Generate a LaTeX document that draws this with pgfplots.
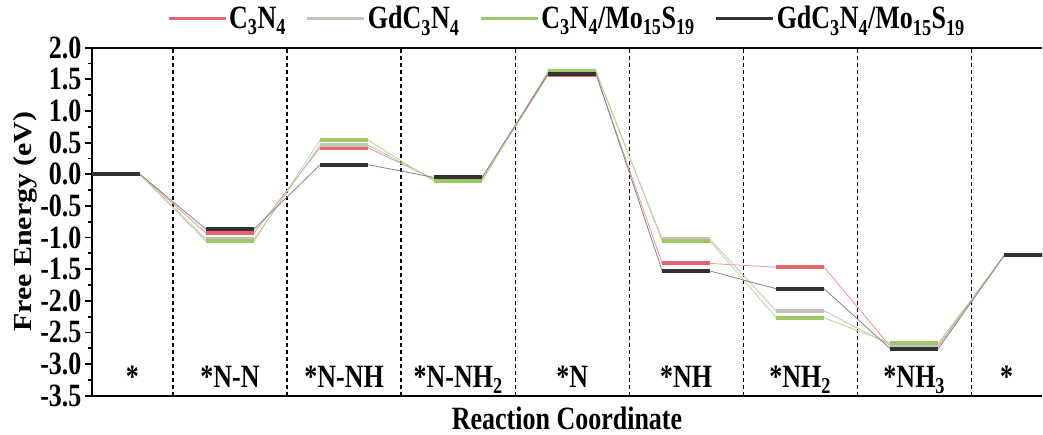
\documentclass[border=0pt]{standalone}
\usepackage{fontspec}
\setmainfont{Liberation Serif}[FakeStretch=0.8]
\newfontfamily\ylfont{Liberation Serif}[FakeStretch=1.15]
\usepackage{pgfplots}
\pgfplotsset{compat=1.18}
\definecolor{cred}{RGB}{232,100,108}
\definecolor{cgrey}{RGB}{192,196,186}
\definecolor{cgreen}{RGB}{155,199,101}
\definecolor{cblack}{RGB}{50,50,50}
\begin{document}
\begin{tikzpicture}[font=\fontsize{32.5}{36}\selectfont\bfseries]
\begin{axis}[name=ax, scale only axis, width=950pt, height=348pt,
  xmin=0.29, xmax=8.62, ymin=-3.5, ymax=2.0,
  axis x line*=box, axis y line*=left,
  axis line style={-, line width=2.2pt, black},
  xtick=\empty,
  extra x ticks={1,2,3,4,5,6,7,8},
  extra x tick labels={},
  extra x tick style={major tick length=0pt, grid=major, major grid style={black, line width=1.2pt, dash pattern=on 4pt off 3pt}},
  ytick={-3.5,-3,...,2},
  minor y tick num=1,
  tick align=outside, ytick pos=left,
  major tick length=7pt, minor tick length=4pt,
  every tick/.style={black, line width=1.8pt},
  yticklabel style={/pgf/number format/.cd, fixed, fixed zerofill, precision=1, assume math mode=true},
  ylabel={\fontsize{26}{30}\ylfont\bfseries Free Energy (eV)},
  ylabel style={at={(axis description cs:-0.0632,0.5)}, anchor=base, inner sep=0pt},
  xlabel={Reaction Coordinate},
  xlabel style={at={(axis description cs:0.5,-0.096)}, anchor=base, inner sep=0pt},
  legend style={at={(0.5,1)}, anchor=south, yshift=13pt, draw=none, fill=none, legend columns=4, /tikz/every even column/.append style={column sep=18pt}},
  legend image code/.code={\draw[#1, line width=3pt] (0pt,0pt) -- (57pt,0pt);},
  unbounded coords=jump, clip=true,
]
% connectors
\addplot[cred!70, line width=0.8pt, forget plot] coordinates {(0.71,0) (1.29,-0.93) (1.71,-0.93) (2.29,0.42) (2.71,0.42) (3.29,-0.08) (3.71,-0.08) (4.29,1.57) (4.71,1.57) (5.29,-1.41) (5.71,-1.41) (6.29,-1.47) (6.71,-1.47) (7.29,-2.72) (7.71,-2.72) (8.29,-1.28)};
\addplot[cgrey, line width=0.8pt, forget plot] coordinates {(0.71,0) (1.29,-1.03) (1.71,-1.03) (2.29,0.46) (2.71,0.46) (3.29,-0.08) (3.71,-0.08) (4.29,1.61) (4.71,1.61) (5.29,-1.03) (5.71,-1.03) (6.29,-2.16) (6.71,-2.16) (7.29,-2.70) (7.71,-2.70) (8.29,-1.28)};
\addplot[cgreen!70, line width=0.8pt, forget plot] coordinates {(0.71,0) (1.29,-1.06) (1.71,-1.06) (2.29,0.54) (2.71,0.54) (3.29,-0.11) (3.71,-0.11) (4.29,1.63) (4.71,1.63) (5.29,-1.06) (5.71,-1.06) (6.29,-2.27) (6.71,-2.27) (7.29,-2.67) (7.71,-2.67) (8.29,-1.28)};
\addplot[cblack!60, line width=0.8pt, forget plot] coordinates {(0.71,0) (1.29,-0.87) (1.71,-0.87) (2.29,0.15) (2.71,0.15) (3.29,-0.05) (3.71,-0.05) (4.29,1.59) (4.71,1.59) (5.29,-1.53) (5.71,-1.53) (6.29,-1.81) (6.71,-1.81) (7.29,-2.76) (7.71,-2.76) (8.29,-1.28)};
% levels
\addplot[cred, line width=4pt] coordinates {(0.29,0) (0.71,0) (1,nan) (1.29,-0.93) (1.71,-0.93) (2,nan) (2.29,0.42) (2.71,0.42) (3,nan) (3.29,-0.08) (3.71,-0.08) (4,nan) (4.29,1.57) (4.71,1.57) (5,nan) (5.29,-1.41) (5.71,-1.41) (6,nan) (6.29,-1.47) (6.71,-1.47) (7,nan) (7.29,-2.72) (7.71,-2.72) (8,nan) (8.29,-1.28) (8.71,-1.28)};
\addlegendentry{C\textsubscript{3}N\textsubscript{4}}
\addplot[cgrey, line width=4pt] coordinates {(0.29,0) (0.71,0) (1,nan) (1.29,-1.03) (1.71,-1.03) (2,nan) (2.29,0.46) (2.71,0.46) (3,nan) (3.29,-0.08) (3.71,-0.08) (4,nan) (4.29,1.61) (4.71,1.61) (5,nan) (5.29,-1.03) (5.71,-1.03) (6,nan) (6.29,-2.16) (6.71,-2.16) (7,nan) (7.29,-2.70) (7.71,-2.70) (8,nan) (8.29,-1.28) (8.71,-1.28)};
\addlegendentry{GdC\textsubscript{3}N\textsubscript{4}}
\addplot[cgreen, line width=4pt] coordinates {(0.29,0) (0.71,0) (1,nan) (1.29,-1.06) (1.71,-1.06) (2,nan) (2.29,0.54) (2.71,0.54) (3,nan) (3.29,-0.11) (3.71,-0.11) (4,nan) (4.29,1.63) (4.71,1.63) (5,nan) (5.29,-1.06) (5.71,-1.06) (6,nan) (6.29,-2.27) (6.71,-2.27) (7,nan) (7.29,-2.67) (7.71,-2.67) (8,nan) (8.29,-1.28) (8.71,-1.28)};
\addlegendentry{C\textsubscript{3}N\textsubscript{4}/Mo\textsubscript{15}S\textsubscript{19}}
\addplot[cblack, line width=4pt] coordinates {(0.29,0) (0.71,0) (1,nan) (1.29,-0.87) (1.71,-0.87) (2,nan) (2.29,0.15) (2.71,0.15) (3,nan) (3.29,-0.05) (3.71,-0.05) (4,nan) (4.29,1.59) (4.71,1.59) (5,nan) (5.29,-1.53) (5.71,-1.53) (6,nan) (6.29,-1.81) (6.71,-1.81) (7,nan) (7.29,-2.76) (7.71,-2.76) (8,nan) (8.29,-1.28) (8.71,-1.28)};
\addlegendentry{GdC\textsubscript{3}N\textsubscript{4}/Mo\textsubscript{15}S\textsubscript{19}}
% category labels
\node[anchor=base] at (axis cs:0.645,-3.37) {*};
\node[anchor=base] at (axis cs:1.5,-3.37) {*N-N};
\node[anchor=base] at (axis cs:2.5,-3.37) {*N-NH};
\node[anchor=base] at (axis cs:3.5,-3.37) {*N-NH\textsubscript{2}};
\node[anchor=base] at (axis cs:4.5,-3.37) {*N};
\node[anchor=base] at (axis cs:5.5,-3.37) {*NH};
\node[anchor=base] at (axis cs:6.5,-3.37) {*NH\textsubscript{2}};
\node[anchor=base] at (axis cs:7.5,-3.37) {*NH\textsubscript{3}};
\node[anchor=base] at (axis cs:8.31,-3.37) {*};
\end{axis}
\pgfresetboundingbox
\path[use as bounding box] ([shift={(-92pt,-39.3pt)}]ax.south west) rectangle ([shift={(1pt,47.7pt)}]ax.north east);
\end{tikzpicture}
\end{document}
